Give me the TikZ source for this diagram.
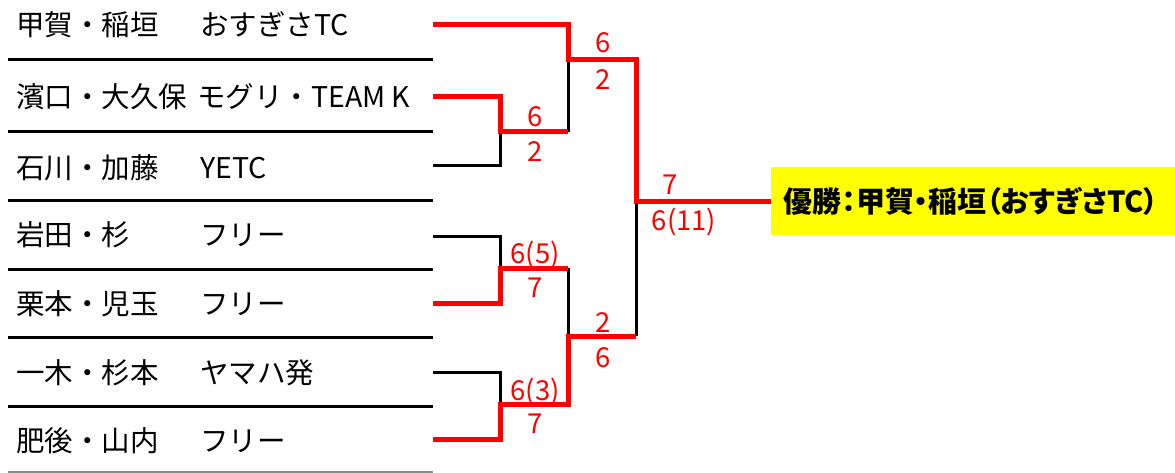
\documentclass[tikz,border=0pt]{standalone}
\usepackage{fontspec}
\setmainfont{Noto Sans CJK JP}
\newfontfamily\jpprop[RawFeature=+palt]{Noto Sans CJK JP}
\definecolor{winred}{RGB}{255,0,0}
\definecolor{champyellow}{RGB}{255,255,0}
\begin{document}
\begin{tikzpicture}[x=1pt,y=-1pt,
  teamname/.style={anchor=base west,inner sep=0pt,font=\fontsize{28.5}{28.5}\selectfont},
  score/.style={anchor=base,inner sep=0pt,text=winred,font=\fontsize{27.5}{27.5}\selectfont},
  sepline/.style={line width=3pt,black},
  lastline/.style={line width=2pt,black!45},
  loser/.style={line width=3pt,black},
  winner/.style={line width=5pt,winred},
]
\useasboundingbox (0,0) rectangle (1175,473);
% team names
\node[teamname] (n0) at (16,36) {甲賀・稲垣};
\node[teamname] (c0) at (200,36) {おすぎさTC};
\node[teamname] (n1) at (16,108) {濱口・大久保};
\node[teamname] (c1) at (197,108) {モグリ・TEAM K};
\node[teamname] (n2) at (16,178.5) {石川・加藤};
\node[teamname] (c2) at (200,178.5) {YETC};
\node[teamname] (n3) at (16,245.5) {岩田・杉};
\node[teamname] (c3) at (200,245.5) {フリー};
\node[teamname] (n4) at (16,314.5) {栗本・児玉};
\node[teamname] (c4) at (200,314.5) {フリー};
\node[teamname] (n5) at (16,383.5) {一木・杉本};
\node[teamname] (c5) at (200,383.5) {ヤマハ発};
\node[teamname] (n6) at (16,451.5) {肥後・山内};
\node[teamname] (c6) at (200,451.5) {フリー};
% separator lines
\foreach \yy in {60,132,201,269,337,406} \draw[sepline] (8,\yy) -- (433,\yy);
\draw[lastline] (8,472) -- (433,472);
% entry stubs
\coordinate (e0) at (433,25);
\coordinate (e1) at (433,97);
\coordinate (e2) at (433,166);
\coordinate (e3) at (433,236);
\coordinate (e4) at (433,303);
\coordinate (e5) at (433,372);
\coordinate (e6) at (433,439);
% junctions
\coordinate (A) at (500,132);  \coordinate (Ao) at (568,132);
\coordinate (B) at (568,60);   \coordinate (Bo) at (636,60);
\coordinate (C) at (500,268);  \coordinate (Co) at (568,268);
\coordinate (D) at (500,404);  \coordinate (Do) at (568,404);
\coordinate (E) at (568,336);  \coordinate (Eo) at (636,336);
\coordinate (F) at (636,200);
% champion
\node[fill=champyellow,minimum width=404pt,minimum height=68pt,inner sep=0pt,anchor=north west] (champ) at (771,167) {};
\node[inner sep=0pt,font=\fontsize{29}{29}\selectfont\bfseries\jpprop] (champtext) at ([xshift=-2pt]champ.center) {優勝：甲賀・稲垣（おすぎさTC）};
% losers (black)
\draw[loser] (e2) -| (A);
\draw[loser] (B) -- (Ao);
\draw[loser] (e3) -| (C);
\draw[loser] (Co) -- (E);
\draw[loser] (e5) -| (D);
\draw[loser] (F) -- (Eo);
% winners (red)
\draw[winner] (e0) -| (B) -- (Bo) |- (champ.west);
\draw[winner] (e1) -| (A) -- (Ao);
\draw[winner] (e4) -| (C) -- (Co);
\draw[winner] (e6) -| (D) -- (Do) |- (Eo);
% scores
\node[score] (sB1) at (603,53) {6};
\node[score] (sB2) at (603,90) {2};
\node[score] (sA1) at (535,127) {6};
\node[score] (sA2) at (535,162) {2};
\node[score] (sF1) at (670,195) {7};
\node[score] (sF2) at (684,230) {6(11)};
\node[score] (sC1) at (535,263) {6(5)};
\node[score] (sC2) at (535,297) {7};
\node[score] (sE1) at (603,332) {2};
\node[score] (sE2) at (603,367) {6};
\node[score] (sD1) at (535,400) {6(3)};
\node[score] (sD2) at (535,433) {7};
\end{tikzpicture}
\end{document}
